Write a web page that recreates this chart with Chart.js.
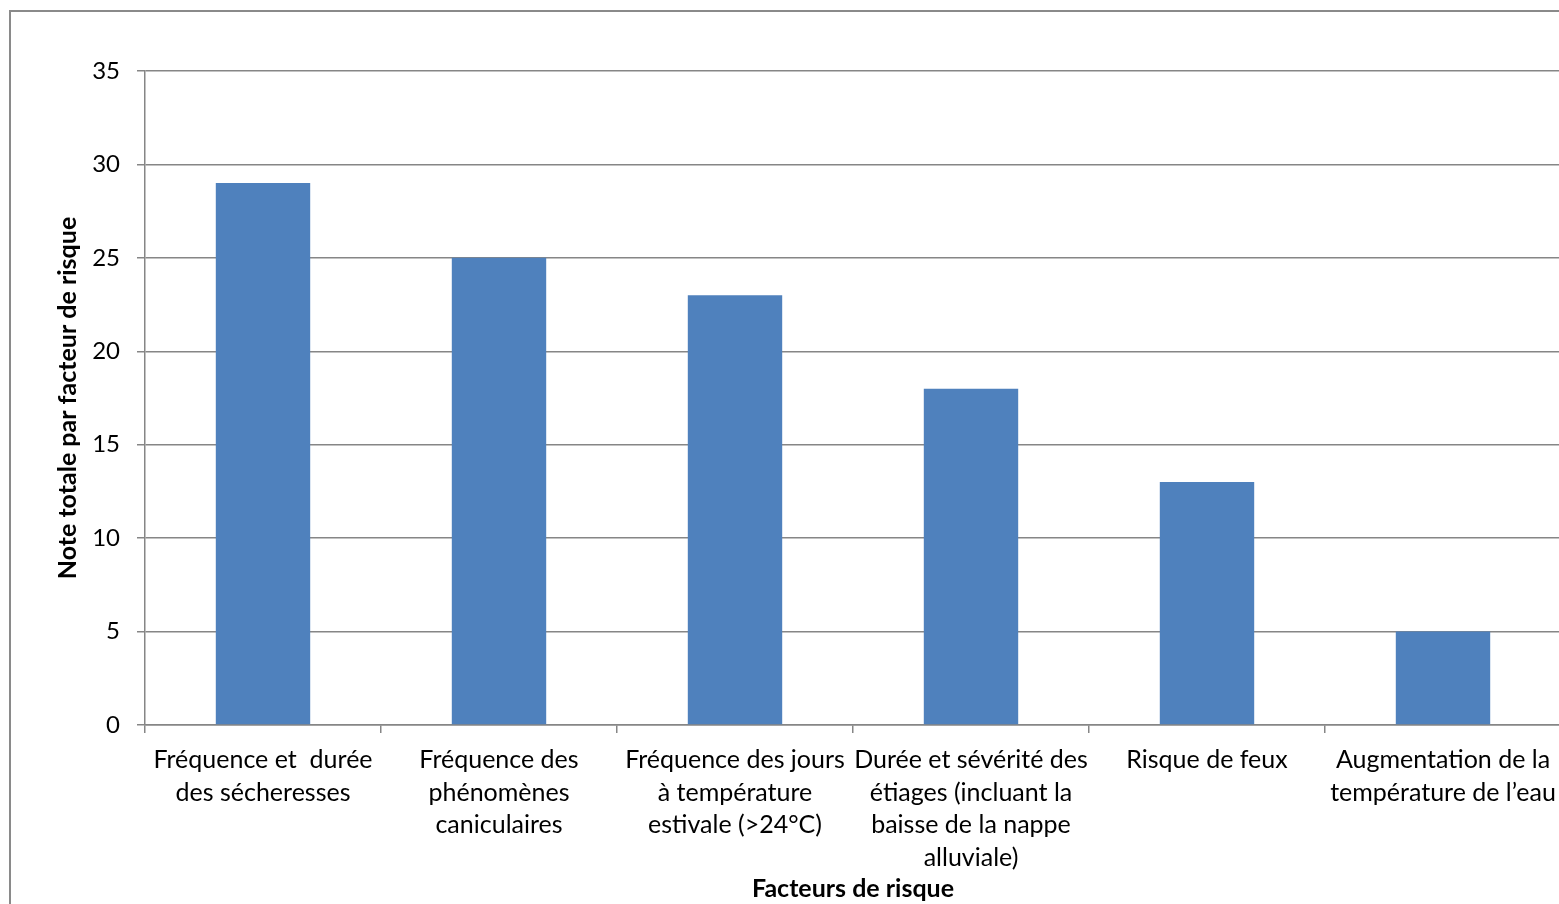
<!DOCTYPE html>
<html>
<head>
    <title>Note totale par facteur de risque</title>
    <script src="https://cdn.jsdelivr.net/npm/chart.js"></script>
    <style>
        html, body {
            margin: 0;
            padding: 0;
            background: #ffffff;
            overflow: hidden;
            width: 1559px;
            height: 904px;
        }
        #frame {
            position: absolute;
            left: 9px;
            top: 10px;
            width: 1600px;
            height: 950px;
            border: 2px solid #8a8a8a;
            box-sizing: border-box;
        }
        #riskChart {
            position: absolute;
            left: 0;
            top: 0;
        }
    </style>
</head>
<body>
    <div id="frame"></div>
    <canvas id="riskChart" width="1561" height="904"></canvas>

    <script>
        // Data
        const categories = [
            ['Fréquence et  durée', 'des sécheresses'],
            ['Fréquence des', 'phénomènes', 'caniculaires'],
            ['Fréquence des jours', 'à température', 'estivale (>24°C)'],
            ['Durée et sévérité des', 'étiages (incluant la', 'baisse de la nappe', 'alluviale)'],
            ['Risque de feux'],
            ['Augmentation de la', 'température de l\u2019eau']
        ];
        const scores = [29, 25, 23, 18, 13, 5];
        const yMin = 0;
        const yMax = 35;
        const yStep = 5;

        const xTitle = 'Facteurs de risque';
        const yTitle = 'Note totale par facteur de risque';

        const gray = '#868686';
        const fontFamily = 'Lato, "Open Sans", sans-serif';

        const ctx = document.getElementById('riskChart').getContext('2d');
        const riskChart = new Chart(ctx, {
            type: 'bar',
            data: {
                labels: categories,
                datasets: [{
                    data: scores,
                    backgroundColor: '#4F81BD',
                    borderWidth: 0,
                    categoryPercentage: 1.0,
                    barPercentage: 0.4
                }]
            },
            options: {
                responsive: false,
                animation: false,
                layout: {
                    padding: { left: 0, right: 0, top: 71, bottom: 0 }
                },
                plugins: {
                    legend: { display: false },
                    tooltip: { enabled: false }
                },
                scales: {
                    x: {
                        // fixed height, and no extra room for the edge labels
                        afterFit: (scale) => {
                            scale.height = 179;
                            scale.paddingLeft = 0;
                            scale.paddingRight = 0;
                        },
                        grid: {
                            drawOnChartArea: false,
                            drawTicks: true,
                            tickLength: 8,
                            color: gray,
                            lineWidth: 1.5,
                            offset: true
                        },
                        border: { color: gray, width: 1.5 },
                        ticks: {
                            color: '#000000',
                            font: { family: fontFamily, size: 25, lineHeight: 1.3 },
                            padding: 11,
                            maxRotation: 0,
                            minRotation: 0,
                            autoSkip: false
                        },
                        title: {
                            display: true,
                            text: xTitle,
                            color: '#000000',
                            font: { family: fontFamily, size: 25, weight: 'bold', lineHeight: 1.2 },
                            padding: { top: 0, bottom: 0 }
                        }
                    },
                    y: {
                        min: yMin,
                        max: yMax,
                        afterFit: (scale) => { scale.width = 145; },
                        grid: {
                            drawTicks: true,
                            tickLength: 8,
                            color: gray,
                            lineWidth: 1.5
                        },
                        border: { color: gray, width: 1.5 },
                        ticks: {
                            stepSize: yStep,
                            color: '#000000',
                            font: { family: fontFamily, size: 24 },
                            padding: 17
                        },
                        title: {
                            display: true,
                            text: yTitle,
                            color: '#000000',
                            font: { family: fontFamily, size: 25, weight: 'bold', lineHeight: 1.2 },
                            padding: { top: 53, bottom: 0 }
                        }
                    }
                }
            }
        });
    </script>
</body>
</html>
